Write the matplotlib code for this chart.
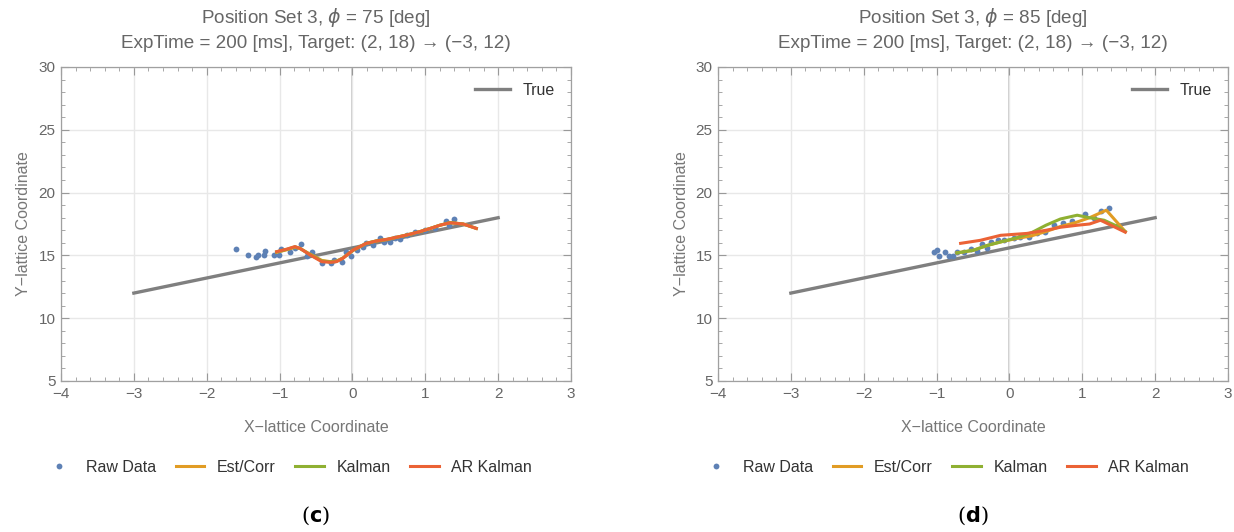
import numpy as np
import matplotlib.pyplot as plt
from matplotlib.ticker import MultipleLocator

# panel (c): phi = 75 deg
raw_x_c = [-1.60, -1.44, -1.33, -1.29, -1.22, -1.20, -1.07, -1.01, -0.98, -0.86, -0.79, -0.70,
           -0.63, -0.56, -0.42, -0.29, -0.25, -0.14, -0.09, -0.02, 0.06, 0.14, 0.19, 0.28,
           0.38, 0.43, 0.51, 0.58, 0.65, 0.75, 0.86, 1.00, 1.13, 1.29, 1.32, 1.40]
raw_y_c = [15.49, 15.00, 14.90, 15.06, 15.00, 15.37, 15.00, 15.00, 15.50, 15.30, 15.60, 15.90,
           14.95, 15.25, 14.37, 14.37, 14.60, 14.45, 15.25, 14.95, 15.43, 15.64, 16.00, 15.80,
           16.36, 16.10, 16.07, 16.36, 16.30, 16.60, 16.86, 17.00, 17.20, 17.70, 17.40, 17.90]
filt_x_c = [-1.04, -0.90, -0.79, -0.72, -0.58, -0.42, -0.30, -0.22, -0.13, 0.01, 0.19, 0.33,
            0.47, 0.65, 0.80, 0.93, 1.07, 1.20, 1.34, 1.52, 1.70]
est_y_c = [15.25, 15.45, 15.65, 15.55, 15.10, 14.60, 14.50, 14.55, 14.80, 15.40, 15.95, 16.15,
           16.25, 16.50, 16.70, 16.90, 17.15, 17.40, 17.60, 17.50, 17.15]
kal_y_c = [15.28, 15.48, 15.68, 15.56, 15.05, 14.55, 14.48, 14.52, 14.78, 15.42, 15.96, 16.16,
           16.27, 16.50, 16.70, 16.90, 17.15, 17.40, 17.62, 17.50, 17.15]
ar_y_c = [15.30, 15.50, 15.70, 15.56, 15.03, 14.50, 14.45, 14.50, 14.77, 15.43, 15.96, 16.15,
          16.28, 16.50, 16.70, 16.90, 17.15, 17.40, 17.60, 17.50, 17.15]

# panel (d): phi = 85 deg
raw_x_d = [-1.04, -1.00, -0.96, -0.89, -0.83, -0.77, -0.72, -0.63, -0.53, -0.44, -0.37, -0.31,
           -0.25, -0.15, -0.07, 0.06, 0.15, 0.27, 0.38, 0.49, 0.61, 0.74, 0.86, 1.04, 1.16,
           1.25, 1.36]
raw_y_d = [15.30, 15.43, 14.98, 15.27, 14.95, 14.95, 15.30, 15.30, 15.50, 15.35, 15.90, 15.60,
           16.10, 16.20, 16.20, 16.36, 16.50, 16.45, 16.80, 16.87, 17.40, 17.55, 17.70, 18.30,
           17.95, 18.56, 18.80]
est_x_d = [-0.72, -0.50, -0.30, -0.10, 0.10, 0.30, 0.50, 0.70, 0.90, 1.10, 1.33, 1.59]
est_y_d = [15.20, 15.40, 15.80, 16.10, 16.35, 16.55, 16.90, 17.30, 17.60, 18.00, 18.60, 16.90]
kal_x_d = [-0.72, -0.50, -0.30, -0.10, 0.10, 0.30, 0.50, 0.70, 0.93, 1.10, 1.30, 1.45, 1.59]
kal_y_d = [15.20, 15.40, 15.80, 16.10, 16.40, 16.80, 17.40, 17.90, 18.20, 18.00, 17.80, 17.40, 16.90]
ar_x_d = [-0.67, -0.40, -0.12, 0.24, 0.50, 0.70, 0.93, 1.10, 1.25, 1.43, 1.59]
ar_y_d = [15.96, 16.20, 16.60, 16.75, 17.00, 17.24, 17.40, 17.50, 17.80, 17.30, 16.85]

# true trajectory (2, 18) -> (-3, 12)
true_x = [-3, 2]
true_y = [12, 18]

phis = [75, 85]
tags = ['c', 'd']

c_raw = '#5E81B5'
c_est = '#E19C24'
c_kal = '#8FB032'
c_ar = '#EB6235'
c_true = '#7F7F7F'
txt_gray = '#666666'

plt.rcParams['font.family'] = ['Liberation Sans', 'DejaVu Sans']

fig = plt.figure(figsize=(12.34, 5.32), dpi=100)
lefts = [61 / 1234, 718 / 1234]

panels = [
    (raw_x_c, raw_y_c, filt_x_c, est_y_c, filt_x_c, kal_y_c, filt_x_c, ar_y_c),
    (raw_x_d, raw_y_d, est_x_d, est_y_d, kal_x_d, kal_y_d, ar_x_d, ar_y_d),
]

for i, (rx, ry, ex, ey, kx, ky, ax_, ay) in enumerate(panels):
    ax = fig.add_axes([lefts[i], 151 / 532, 510 / 1234, 314 / 532])
    ax.set_xlim(-4, 3)
    ax.set_ylim(5, 30)

    ax.grid(True, color='#E8E8E8', linewidth=1.0, zorder=0)
    ax.axvline(0, color='#C4C4C4', linewidth=1.2, zorder=1)

    t_line, = ax.plot(true_x, true_y, color=c_true, linewidth=2.4, zorder=2, label='True')
    ax.plot(rx, ry, 'o', color=c_raw, markersize=4.2, markeredgewidth=0, zorder=3, label='Raw Data')
    ax.plot(ex, ey, color=c_est, linewidth=2.2, zorder=4, label='Est/Corr')
    ax.plot(kx, ky, color=c_kal, linewidth=2.2, zorder=5, label='Kalman')
    ax.plot(ax_, ay, color=c_ar, linewidth=2.2, zorder=6, label='AR Kalman')

    # frame ticks on all sides, pointing in
    ax.xaxis.set_major_locator(MultipleLocator(1))
    ax.xaxis.set_minor_locator(MultipleLocator(0.2))
    ax.yaxis.set_major_locator(MultipleLocator(5))
    ax.yaxis.set_minor_locator(MultipleLocator(1))
    ax.tick_params(which='both', direction='in', top=True, right=True, color='#999999',
                   labelsize=11, labelcolor=txt_gray, pad=4)
    ax.tick_params(which='major', length=6, width=0.8)
    ax.tick_params(which='minor', length=3, width=0.6)
    for s in ax.spines.values():
        s.set_color('#A0A0A0')
        s.set_linewidth(0.9)

    ax.set_xlabel('X\u2212lattice Coordinate', fontsize=11.5, color='#777777', labelpad=14)
    ax.set_ylabel('Y\u2212lattice Coordinate', fontsize=11.5, color='#777777', labelpad=5)
    ax.set_title(f'Position Set 3, $\\phi$ = {phis[i]} [deg]\n'
                 'ExpTime = 200 [ms], Target: (2, 18) \u2192 (\u22123, 12)',
                 fontsize=13.6, color=txt_gray, linespacing=1.45, pad=14)

    leg_true = ax.legend(handles=[t_line], loc='upper right', frameon=False, fontsize=11.5,
                         handlelength=2.2, borderaxespad=0.6)
    for t in leg_true.get_texts():
        t.set_color('#333333')
    ax.add_artist(leg_true)

    handles, labels = ax.get_legend_handles_labels()
    bottom = ax.legend(handles[1:], labels[1:], loc='upper center', bbox_to_anchor=(0.446, -0.205),
                       ncol=4, frameon=False, fontsize=11.5, handlelength=1.8,
                       handletextpad=0.8, columnspacing=1.2)
    for t in bottom.get_texts():
        t.set_color('#333333')

    cx = lefts[i] + 255 / 1234
    fig.text(cx, 16 / 532, '(' + r'$\mathbf{' + tags[i] + '}$' + ')', ha='center', va='center',
             fontsize=15, family='DejaVu Serif')

fig.savefig('out.png', dpi=100)
